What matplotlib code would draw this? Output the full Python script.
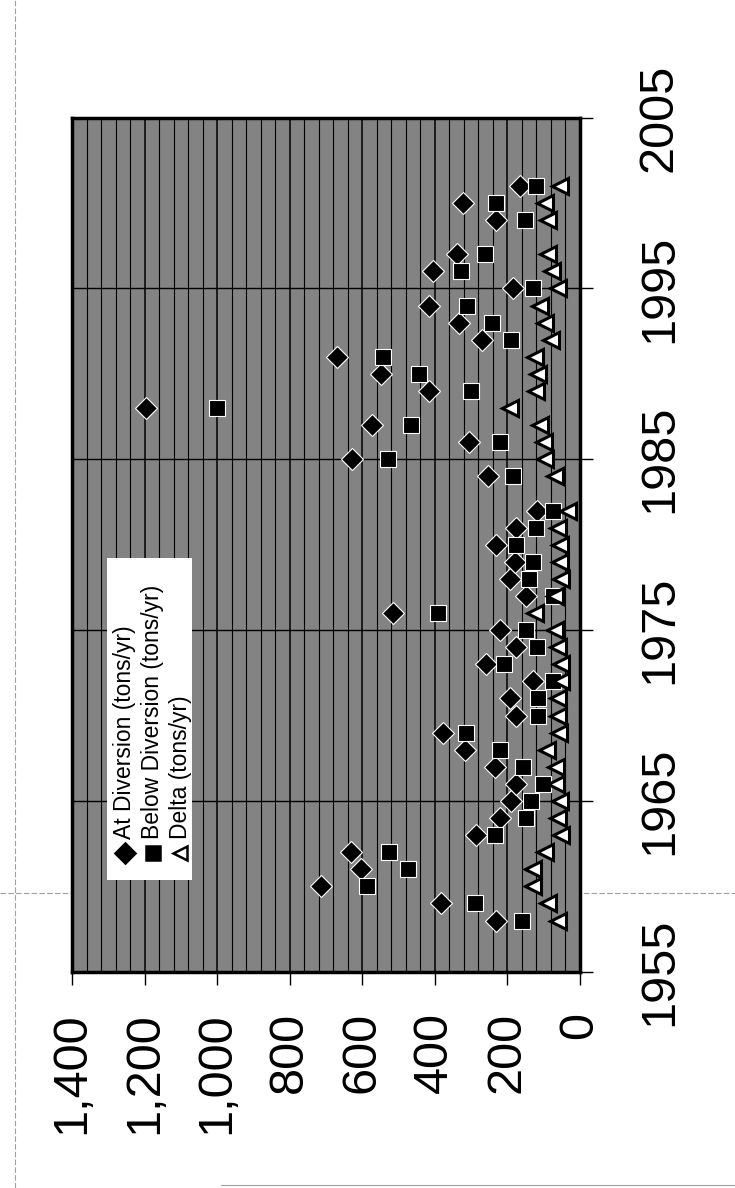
import numpy as np
import matplotlib.pyplot as plt
from matplotlib.ticker import MultipleLocator, FuncFormatter
from matplotlib.patches import Rectangle
from matplotlib.lines import Line2D

# sediment load by year (tons/yr)
years = [1958, 1959, 1960, 1961, 1962, 1963, 1964, 1965, 1966, 1967,
         1968, 1969, 1970, 1971, 1972, 1973, 1974, 1975, 1976, 1977,
         1978, 1979, 1980, 1981, 1982, 1984, 1985, 1986, 1987, 1988,
         1989, 1990, 1991, 1992, 1993, 1994, 1995, 1996, 1997, 1999,
         2000, 2001]
at_diversion = [230, 383, 715, 604, 632, 286, 221, 189, 175, 235,
                318, 378, 175, 194, 129, 260, 177, 219, 516, 148,
                194, 180, 230, 177, 118, 252, 627, 306, 572, 1195,
                415, 549, 669, 269, 332, 417, 185, 404, 340, 230,
                321, 166]
below_diversion = [161, 289, 586, 475, 526, 235, 148, 134, 101, 157,
                   221, 314, 115, 115, 74, 208, 118, 149, 392, 74,
                   140, 129, 177, 120, 75, 185, 530, 219, 466, 1000,
                   300, 443, 544, 189, 243, 312, 129, 327, 261, 152,
                   230, 120]
delta = [60, 88, 130, 130, 95, 51, 60, 55, 65, 65,
         92, 57, 60, 60, 51, 51, 60, 69, 125, 70,
         51, 55, 55, 61, 33, 69, 97, 100, 111, 194,
         120, 116, 125, 80, 97, 111, 60, 78, 88, 88,
         97, 55]

year_ticks = [1955, 1965, 1975, 1985, 1995, 2005]
labels = ['At Diversion (tons/yr)', 'Below Diversion (tons/yr)', 'Delta (tons/yr)']

plt.rcParams['font.family'] = ['Liberation Sans', 'DejaVu Sans']

fig = plt.figure(figsize=(7.35, 11.88), dpi=100)
ax = fig.add_axes([0.098, 0.182, 0.691, 0.719])
ax.set_facecolor('#838383')

# the page is scanned sideways: value runs right-to-left, years run upward
ax.plot(at_diversion, years, ls='none', marker='D', ms=11.5, mfc='black', mec='white', mew=0.8, zorder=3)
ax.plot(below_diversion, years, ls='none', marker='s', ms=11, mfc='black', mec='white', mew=0.8, zorder=3)
ax.plot(delta, years, ls='none', marker='<', ms=11, mfc='white', mec='black', mew=2.2, zorder=3)

ax.set_xlim(1400, 0)
ax.set_ylim(1955, 2005)

ax.xaxis.set_major_locator(MultipleLocator(200))
ax.xaxis.set_minor_locator(MultipleLocator(40))
ax.xaxis.set_major_formatter(FuncFormatter(lambda v, p: '{:,}'.format(int(v))))
ax.set_yticks(year_ticks)
ax.yaxis.tick_right()

ax.set_axisbelow(True)
ax.grid(axis='x', which='major', color='black', lw=1.1)
ax.grid(axis='x', which='minor', color='black', lw=0.8)
ax.grid(axis='y', which='major', color='black', lw=1.0)

ax.tick_params(axis='x', which='major', direction='out', length=9, width=1,
               labelsize=35, pad=20, labelrotation=90)
ax.tick_params(axis='x', which='minor', length=0)
ax.tick_params(axis='y', which='major', direction='out', length=9, width=1,
               labelsize=35, pad=32, labelrotation=90)
for lbl in ax.get_yticklabels():
    lbl.set_va('center')

for s in ax.spines.values():
    s.set_linewidth(2.5)

# legend, drawn sideways to match the page
ax.add_patch(Rectangle((0.069, 0.108), 0.167, 0.376, transform=ax.transAxes,
                       facecolor='white', edgecolor='none', zorder=5))
markers = [('D', 'black', 'black', 10), ('s', 'black', 'black', 10), ('<', 'white', 'black', 10)]
for i, (lab, (m, fc, ec, sz)) in enumerate(zip(labels, markers)):
    xf = 0.104 + 0.0545 * i
    ax.plot([xf], [0.139], marker=m, ms=sz, mfc=fc, mec=ec, mew=1.8,
            transform=ax.transAxes, zorder=6, clip_on=False)
    ax.text(xf, 0.156, lab, rotation=90, ha='center', va='bottom', fontsize=16.5,
            transform=ax.transAxes, zorder=6)

# faint scan edges on the page
fig.add_artist(Line2D([0, 1], [1 - 893 / 1188] * 2, transform=fig.transFigure,
                      color='#a0a0a0', lw=0.8, ls=(0, (5, 2)), zorder=0))
fig.add_artist(Line2D([15 / 735] * 2, [0, 1], transform=fig.transFigure,
                      color='#a0a0a0', lw=0.8, ls=(0, (5, 2)), zorder=0))
fig.add_artist(Line2D([0.3, 1], [3 / 1188] * 2, transform=fig.transFigure,
                      color='#a0a0a0', lw=0.8, zorder=0))

fig.savefig('out.png', dpi=100)
